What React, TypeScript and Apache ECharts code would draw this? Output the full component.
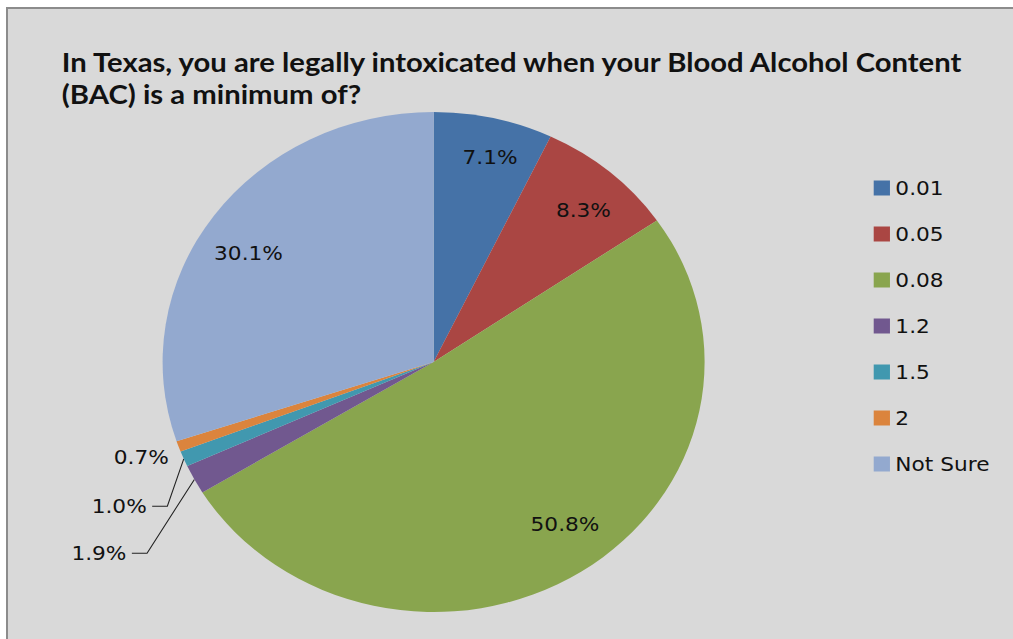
import React, { useEffect, useRef } from "react";
import * as echarts from "echarts";

const titleLines = [
  "In Texas, you are legally intoxicated when your Blood Alcohol Content",
  "(BAC) is a minimum of?",
];
const categories = ["0.01", "0.05", "0.08", "1.2", "1.5", "2", "Not Sure"];
const values = [7.1, 8.3, 50.8, 1.9, 1.0, 0.7, 30.1];
const colors = ["#4572A7", "#AA4643", "#89A54E", "#71588F", "#4198AF", "#DB843D", "#93A9CF"];
const insideThreshold = 5;

// small label nudges (dx, dy) so the labels sit where the reference puts them
const outsideNudge: Record<number, [number, number]> = { 3: [-28, 56], 4: [-1, 31], 5: [26, 4] };
const insideNudge: Record<number, [number, number]> = { 0: [6, -2], 1: [3, 6], 2: [8, -12], 6: [-2, 13] };

// the reference picture is stretched horizontally
const STRETCH = 1.084;
const W = 1013;
const H = 639;

export default function App() {
  const ref = useRef<HTMLDivElement>(null);
  useEffect(() => {
    if (!ref.current) return;
    const chart = echarts.init(ref.current, undefined, { renderer: "svg" });
    const labelFont = "'DejaVu Sans', Verdana, sans-serif";
    const mainData = categories.map((name, i) => {
      const small = values[i] < insideThreshold;
      return {
        name,
        value: values[i],
        itemStyle: { color: colors[i] },
        label: { show: small },
        labelLine: { show: small && values[i] >= 0.9 },
      };
    });
    const labelData = categories.map((name, i) => ({
      name,
      value: values[i],
      label: { show: values[i] >= insideThreshold },
    }));
    const pieCenter = [400, 362];
    chart.setOption({
      animation: false,
      backgroundColor: "transparent",
      color: colors,
      title: {
        text: titleLines.join("\n"),
        left: 52,
        top: 40,
        textStyle: {
          fontFamily: "Lato, 'Open Sans', sans-serif",
          fontWeight: "bold",
          fontSize: 27,
          lineHeight: 32,
          color: "#111",
        },
      },
      legend: {
        data: categories,
        orient: "vertical",
        left: 801,
        top: 173,
        icon: "rect",
        itemWidth: 15,
        itemHeight: 15,
        itemGap: 26,
        textStyle: {
          fontFamily: labelFont,
          fontSize: 20,
          lineHeight: 20,
          color: "#111",
        },
      },
      series: [
        {
          type: "pie",
          center: pieCenter,
          radius: 250,
          startAngle: 90,
          clockwise: true,
          silent: true,
          itemStyle: { borderWidth: 0 },
          label: {
            position: "outside",
            formatter: (p: any) => p.value.toFixed(1) + "%",
            fontFamily: labelFont,
            fontSize: 20,
            color: "#111",
          },
          labelLine: {
            length: 20,
            length2: 12,
            lineStyle: { color: "#222", width: 1 },
          },
          labelLayout: (params: any) => {
            const n = outsideNudge[params.dataIndex];
            if (!n) return {};
            const [dx, dy] = n;
            const pts = params.labelLinePoints;
            if (!pts) return { dx, dy };
            const end = [pts[2][0] + dx, pts[2][1] + dy];
            const bend = [end[0] + 14, end[1]];
            return { dx, dy, labelLinePoints: [pts[0], bend, end] };
          },
          data: mainData,
        },
        {
          type: "pie",
          center: pieCenter,
          radius: [160, 250],
          startAngle: 90,
          clockwise: true,
          silent: true,
          itemStyle: { color: "transparent", borderWidth: 0 },
          label: {
            position: "inside",
            formatter: (p: any) => p.value.toFixed(1) + "%",
            fontFamily: labelFont,
            fontSize: 20,
            color: "#111",
          },
          labelLine: { show: false },
          labelLayout: (params: any) => {
            const n = insideNudge[params.dataIndex];
            return n ? { dx: n[0], dy: n[1] } : {};
          },
          data: labelData,
        },
      ],
    });
    return () => chart.dispose();
  }, []);
  return (
    <div style={{ position: "fixed", left: 0, top: 0, width: W, height: H, background: "#fff", overflow: "hidden" }}>
      <div
        style={{
          position: "absolute",
          left: 6,
          top: 7,
          right: 0,
          bottom: 0,
          background: "#d9d9d9",
          borderTop: "2px solid #8c8c8c",
          borderLeft: "2px solid #8c8c8c",
        }}
      />
      <div
        ref={ref}
        style={{
          position: "absolute",
          left: 0,
          top: 0,
          width: Math.round(W / STRETCH),
          height: H,
          transform: `scaleX(${STRETCH})`,
          transformOrigin: "0 0",
        }}
      />
    </div>
  );
}
